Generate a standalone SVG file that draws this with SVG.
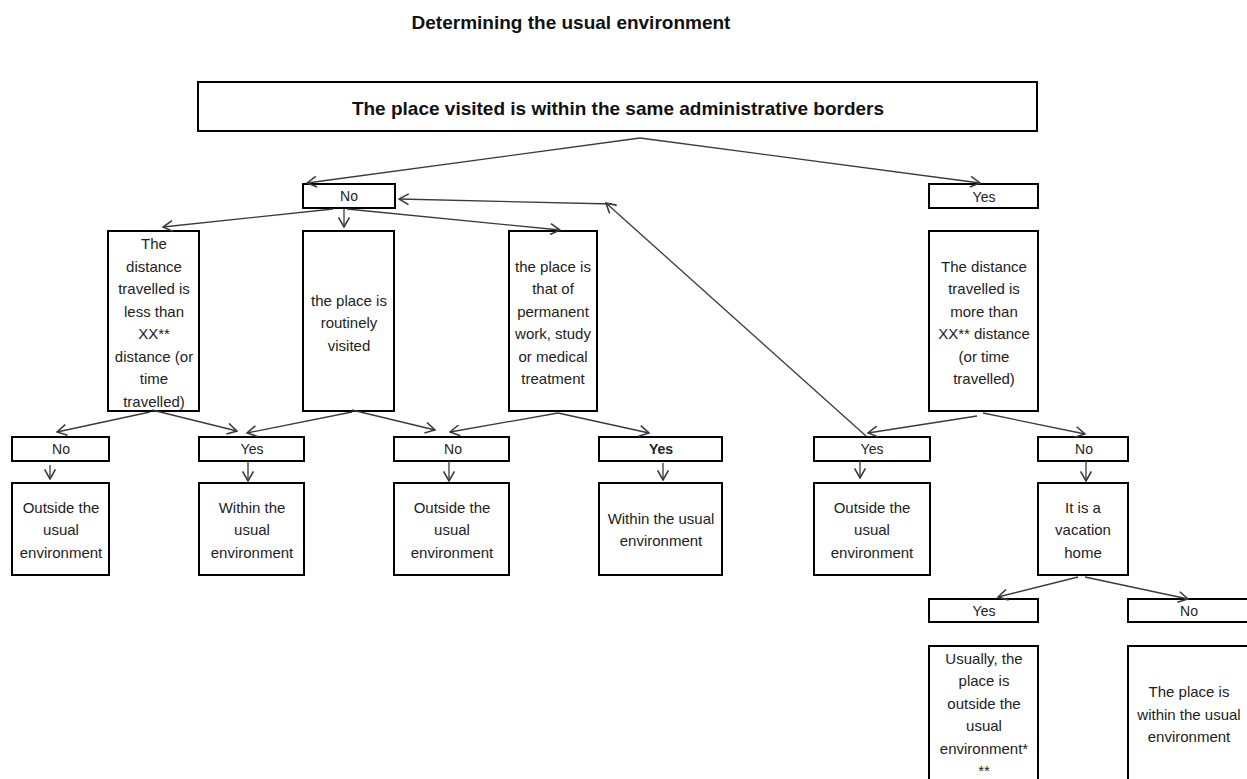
<svg xmlns="http://www.w3.org/2000/svg" width="1247" height="779" viewBox="0 0 1247 779">
<style>
.box{fill:#fff;stroke:#000;stroke-width:2}
.t{font-family:"Liberation Sans",Arial,sans-serif;font-size:15px;fill:#222;text-anchor:middle}
.l{font-family:"Liberation Sans",Arial,sans-serif;font-size:14px;fill:#222;text-anchor:middle}
.b{font-family:"Liberation Sans",Arial,sans-serif;font-size:19px;font-weight:bold;fill:#111;text-anchor:middle}
.c line{stroke:#3a3a3a;stroke-width:1.3;marker-end:url(#ah)}
</style>
<defs>
<marker id="ah" markerUnits="userSpaceOnUse" markerWidth="12" markerHeight="12" viewBox="0 0 10 10" refX="9" refY="5" orient="auto">
<path d="M1,0.5 L9,5 L1,9.5" fill="none" stroke="#3a3a3a" stroke-width="1.3"/>
</marker>
</defs>
<rect width="1247" height="779" fill="#fff"/>
<text class="b" x="571" y="29">Determining the usual environment</text>

<g id="root"><rect class="box" x="198" y="82" width="839" height="49"/><text class="b" x="618" y="115">The place visited is within the same administrative borders</text></g>

<g id="no1"><rect class="box" x="303" y="184" width="92" height="24"/><text class="l" x="349" y="201">No</text></g>
<g id="yes1"><rect class="box" x="929" y="184" width="109" height="24"/><text class="l" x="984" y="202">Yes</text></g>

<g id="distLess"><rect class="box" x="108" y="231" width="91" height="180"/>
<text class="t" x="154" y="249">The</text><text class="t" x="154" y="272">distance</text><text class="t" x="154" y="294">travelled is</text><text class="t" x="154" y="317">less than</text><text class="t" x="154" y="339">XX**</text><text class="t" x="154" y="362">distance (or</text><text class="t" x="154" y="384">time</text><text class="t" x="154" y="407">travelled)</text></g>
<g id="routine"><rect class="box" x="303" y="231" width="91" height="180"/>
<text class="t" x="349" y="306">the place is</text><text class="t" x="349" y="328">routinely</text><text class="t" x="349" y="351">visited</text></g>
<g id="permanent"><rect class="box" x="509" y="231" width="88" height="180"/>
<text class="t" x="553" y="272">the place is</text><text class="t" x="553" y="294">that of</text><text class="t" x="553" y="317">permanent</text><text class="t" x="553" y="339">work, study</text><text class="t" x="553" y="362">or medical</text><text class="t" x="553" y="384">treatment</text></g>
<g id="distMore"><rect class="box" x="929" y="231" width="109" height="180"/>
<text class="t" x="984" y="272">The distance</text><text class="t" x="984" y="294">travelled is</text><text class="t" x="984" y="317">more than</text><text class="t" x="984" y="339">XX** distance</text><text class="t" x="984" y="362">(or time</text><text class="t" x="984" y="384">travelled)</text></g>

<g id="l1"><rect class="box" x="12" y="437" width="97" height="24"/><text class="l" x="61" y="454">No</text></g>
<g id="l2"><rect class="box" x="199" y="437" width="105" height="24"/><text class="l" x="252" y="454">Yes</text></g>
<g id="l3"><rect class="box" x="394" y="437" width="115" height="24"/><text class="l" x="453" y="454">No</text></g>
<g id="l4"><rect class="box" x="599" y="437" width="123" height="24"/><text class="l" x="661" y="454" font-weight="bold">Yes</text></g>
<g id="l5"><rect class="box" x="814" y="437" width="116" height="24"/><text class="l" x="872" y="454">Yes</text></g>
<g id="l6"><rect class="box" x="1038" y="437" width="90" height="24"/><text class="l" x="1084" y="454">No</text></g>

<g id="r1"><rect class="box" x="12" y="483" width="97" height="92"/><text class="t" x="61" y="513">Outside the</text><text class="t" x="61" y="535">usual</text><text class="t" x="61" y="558">environment</text></g>
<g id="r2"><rect class="box" x="199" y="483" width="105" height="92"/><text class="t" x="252" y="513">Within the</text><text class="t" x="252" y="535">usual</text><text class="t" x="252" y="558">environment</text></g>
<g id="r3"><rect class="box" x="394" y="483" width="115" height="92"/><text class="t" x="452" y="513">Outside the</text><text class="t" x="452" y="535">usual</text><text class="t" x="452" y="558">environment</text></g>
<g id="r4"><rect class="box" x="599" y="483" width="123" height="92"/><text class="t" x="661" y="524">Within the usual</text><text class="t" x="661" y="546">environment</text></g>
<g id="r5"><rect class="box" x="814" y="483" width="116" height="92"/><text class="t" x="872" y="513">Outside the</text><text class="t" x="872" y="535">usual</text><text class="t" x="872" y="558">environment</text></g>
<g id="r6"><rect class="box" x="1038" y="483" width="90" height="92"/><text class="t" x="1083" y="513">It is a</text><text class="t" x="1083" y="535">vacation</text><text class="t" x="1083" y="558">home</text></g>

<g id="l7"><rect class="box" x="929" y="599" width="109" height="23"/><text class="l" x="984" y="616">Yes</text></g>
<g id="l8"><rect class="box" x="1128" y="599" width="124" height="23"/><text class="l" x="1189" y="616">No</text></g>

<g id="r7"><rect class="box" x="929" y="646" width="109" height="150"/>
<text class="t" x="984" y="664">Usually, the</text><text class="t" x="984" y="686">place is</text><text class="t" x="984" y="709">outside the</text><text class="t" x="984" y="731">usual</text><text class="t" x="984" y="754">environment*</text><text class="t" x="984" y="776">**</text></g>
<g id="r8"><rect class="box" x="1128" y="646" width="124" height="150"/>
<text class="t" x="1189" y="697">The place is</text><text class="t" x="1189" y="720">within the usual</text><text class="t" x="1189" y="742">environment</text></g>

<g id="connectors" class="c">
<line x1="640" y1="138" x2="307" y2="183"/>
<line x1="640" y1="138" x2="980" y2="183"/>
<line x1="612" y1="204" x2="399" y2="199"/>
<line x1="866" y1="436" x2="606" y2="203"/>
<line x1="333" y1="209" x2="163" y2="227"/>
<line x1="344" y1="209" x2="344" y2="227"/>
<line x1="347" y1="209" x2="560" y2="230"/>
<line x1="150" y1="412" x2="57" y2="432"/>
<line x1="152" y1="410" x2="237" y2="431"/>
<line x1="352" y1="412" x2="247" y2="433"/>
<line x1="352" y1="410" x2="435" y2="430"/>
<line x1="558" y1="413" x2="450" y2="432"/>
<line x1="558" y1="413" x2="649" y2="433"/>
<line x1="977" y1="416" x2="868" y2="433"/>
<line x1="983" y1="413" x2="1085" y2="434"/>
<line x1="50" y1="465" x2="50" y2="479"/>
<line x1="248" y1="461" x2="248" y2="481"/>
<line x1="449" y1="461" x2="449" y2="481"/>
<line x1="663" y1="463" x2="663" y2="480"/>
<line x1="860" y1="461" x2="860" y2="478"/>
<line x1="1086" y1="461" x2="1086" y2="481"/>
<line x1="1078" y1="577" x2="998" y2="597"/>
<line x1="1085" y1="577" x2="1188" y2="599"/>
</g>
</svg>
